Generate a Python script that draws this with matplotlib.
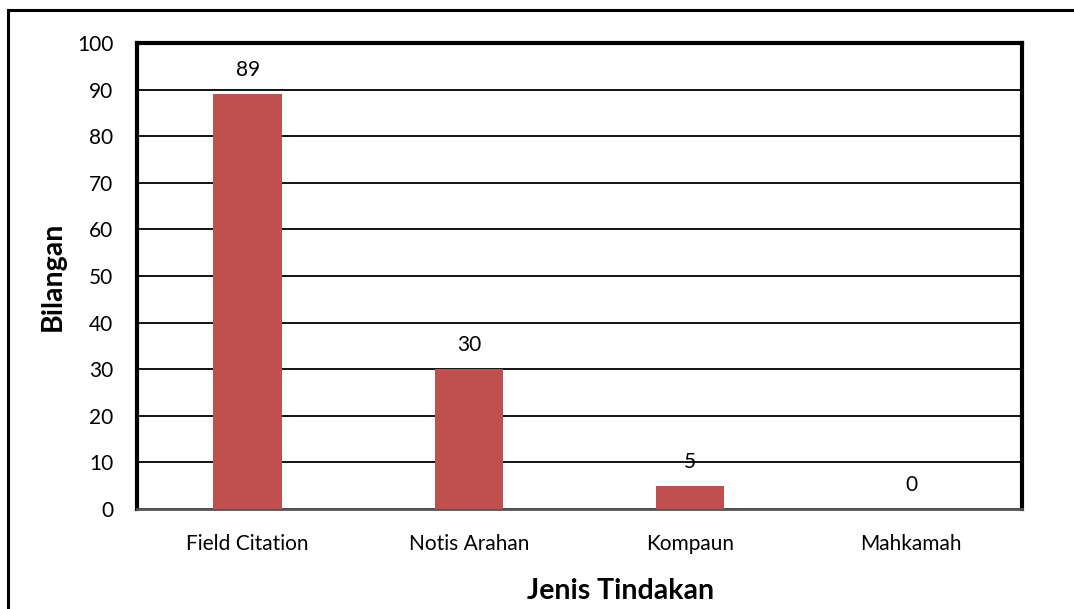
import matplotlib
matplotlib.use('Agg')
import matplotlib.pyplot as plt
from matplotlib.lines import Line2D

# Data
categories = ['Field Citation', 'Notis Arahan', 'Kompaun', 'Mahkamah']
values = [89, 30, 5, 0]
yticks = [0, 10, 20, 30, 40, 50, 60, 70, 80, 90, 100]

plt.rcParams['font.family'] = ['Lato', 'DejaVu Sans']

fig = plt.figure(figsize=(10.74, 6.09), dpi=100)
ax = fig.add_axes([137 / 1074, 1 - 509 / 609, (1022 - 137) / 1074, (509 - 43) / 609])

x = range(len(categories))
ax.bar(x, values, width=0.31, color='#C0504D', zorder=3)

for i, v in enumerate(values):
    ax.text(i, v + 3, str(v), ha='center', va='bottom', fontsize=15)

ax.set_xlim(-0.5, len(categories) - 0.5)
ax.set_ylim(0, 100)
ax.set_yticks(yticks)
ax.set_xticks(list(x))
ax.set_xticklabels(categories, fontsize=15)
ax.tick_params(axis='y', labelsize=15, length=0, pad=17)
ax.tick_params(axis='x', length=0, pad=18)

# gridlines
ax.yaxis.grid(True, color='black', linewidth=1.3, zorder=1)

for s in ['left', 'top', 'right']:
    ax.spines[s].set_linewidth(3)
    ax.spines[s].set_color('black')
ax.spines['bottom'].set_linewidth(2)
ax.spines['bottom'].set_color('#555555')

ax.set_ylabel('Bilangan', fontsize=20.5, fontweight='bold', labelpad=8)
fig.text(621 / 1074, 1 - 591 / 609, 'Jenis Tindakan', fontsize=20.5, fontweight='bold',
         ha='center', va='center')

# outer chart frame (left and top edges)
fig.add_artist(Line2D([8 / 1074, 8 / 1074], [0, 1 - 10 / 609], color='black', linewidth=2.2,
                      transform=fig.transFigure))
fig.add_artist(Line2D([8 / 1074, 1], [1 - 10 / 609, 1 - 10 / 609], color='black', linewidth=2.2,
                      transform=fig.transFigure))

fig.savefig('out.png', dpi=100)
